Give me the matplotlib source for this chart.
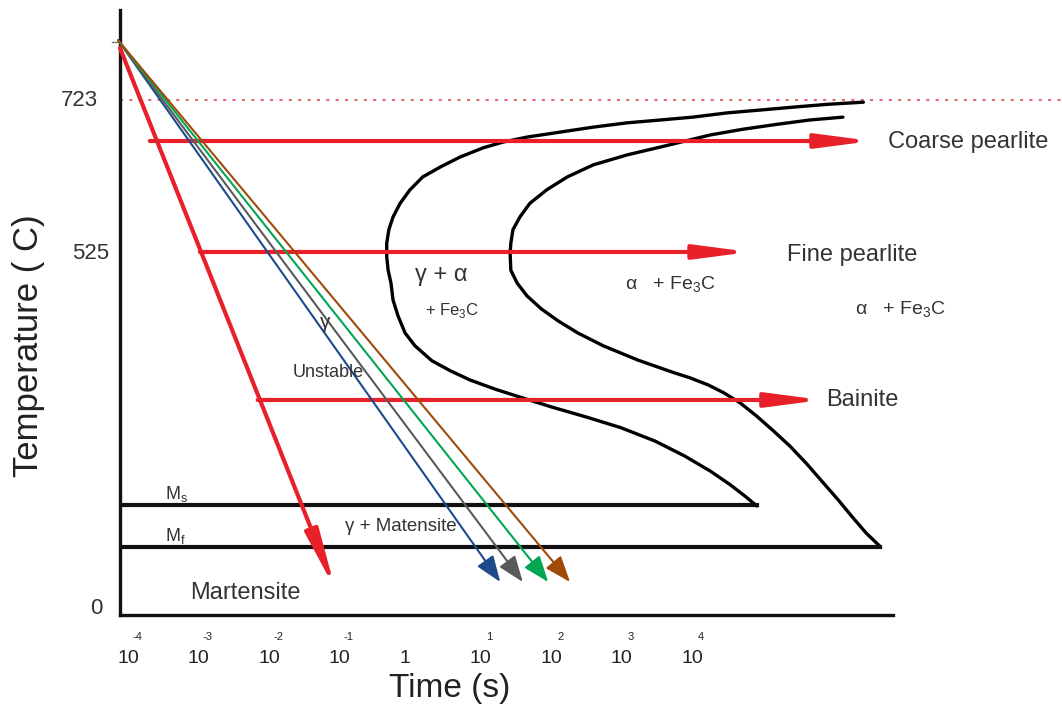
# TTT (time-temperature-transformation) diagram for eutectoid steel, redrawn with matplotlib
import matplotlib.pyplot as plt

plt.rcParams['font.family'] = ['Liberation Sans', 'DejaVu Sans']
plt.rcParams['mathtext.fontset'] = 'custom'
plt.rcParams['mathtext.rm'] = 'Liberation Sans'

# x is log10(time in s), y is a schematic temperature scale (723 = eutectoid line)
decades = [-4, -3, -2, -1, 0, 1, 2, 3, 4]
decade_labels = ['-4', '-3', '-2', '-1', '', '1', '2', '3', '4']

temp_tick_pos = [9.8, 508.2, 723]
temp_tick_labels = ['0', '525', '723']

# transformation start curve (left C-curve)
start_logt = [6.43, 5.92, 5.43, 4.97, 4.50, 4.01, 3.55, 3.08, 2.60, 2.13, 1.66, 1.32,
              1.04, 0.71, 0.43, 0.18, 0.00, -0.14, -0.24, -0.30, -0.33, -0.33, -0.31,
              -0.27, -0.24, -0.17, -0.07, 0.07, 0.31, 0.57, 0.85, 1.21, 1.59, 2.01,
              2.50, 2.99, 3.48, 3.90, 4.26, 4.54, 4.75, 4.92]
start_temp = [720, 717, 713, 709, 705, 699, 695, 691, 685, 678, 671, 664,
              656, 643, 629, 615, 597, 578, 559, 541, 522, 503, 484,
              466, 442, 420, 396, 378, 357, 343, 330, 317, 305, 292,
              278, 263, 244, 223, 202, 183, 167, 153]

# transformation finish curve (right C-curve)
finish_logt = [6.14, 5.67, 5.21, 4.72, 4.26, 4.01, 3.55, 3.08, 2.60, 2.23, 1.94, 1.70,
               1.56, 1.46, 1.43, 1.42, 1.43, 1.52, 1.66, 1.86, 2.10, 2.38, 2.74,
               3.23, 3.72, 3.97, 4.23, 4.45, 4.68, 4.92, 5.16, 5.39, 5.62, 5.84,
               6.07, 6.27, 6.47, 6.67]
finish_temp = [699, 695, 689, 682, 674, 668, 657, 646, 632, 615, 597, 578,
               559, 541, 522, 508, 484, 466, 448, 430, 413, 396, 378,
               358, 341, 333, 323, 312, 298, 279, 258, 237, 213, 188,
               162, 138, 115, 96]

# martensite start / finish
ms_temp, ms_end = 154.4, 4.92
mf_temp, mf_end = 95.5, 6.67

# isothermal holds
hold_start = [-3.69, -2.98, -2.16]
hold_end = [6.55, 4.82, 5.84]
hold_temp = [665.5, 509.7, 301.9]
hold_labels = ['Coarse pearlite', 'Fine pearlite', 'Bainite']

# continuous cooling lines from the austenitizing point
cool_origin = (-4.14, 807)
cool_end_logt = [1.28, 1.60, 1.96, 2.27]
cool_end_temp = 46.3
cool_colors = ['#1d4a8a', '#5a5a5a', '#00a651', '#a04a0a']

# quench line (red)
quench_from = (-4.113, 796)
quench_to = (-1.06, 36)

red = '#e8202a'

fig = plt.figure(figsize=(10.62, 7.06), dpi=100)
ax = fig.add_axes([0.1130, 0.1289, 0.7279, 0.8569])
ax.set_xlim(-4.113, 6.851)
ax.set_ylim(0, 849.4)

# axes: only left and bottom lines
ax.spines['top'].set_visible(False)
ax.spines['right'].set_visible(False)
for s in ['left', 'bottom']:
    ax.spines[s].set_linewidth(2.4)
    ax.spines[s].set_color('#111111')
ax.set_xticks([])
ax.set_yticks([])

# y labels (placed a little unevenly, like the original)
ytick_x = [-4.36, -4.26, -4.43]
for t, lab, x in zip(temp_tick_pos, temp_tick_labels, ytick_x):
    ax.text(x, t, lab, ha='right', va='center', fontsize=16, color='#333333', clip_on=False)

# small mark where the cooling starts
ax.plot([-4.23, -4.113], [804, 804], color='#777777', lw=1, clip_on=False)

# x tick labels: 10 with raised exponent
for d, e in zip(decades, decade_labels):
    if e == '':
        ax.text(d - 0.07, -0.0711, '1', transform=ax.get_xaxis_transform(),
                ha='center', va='center', fontsize=14, color='#222222')
    else:
        ax.text(d, -0.0711, '10', transform=ax.get_xaxis_transform(),
                ha='center', va='center', fontsize=14, color='#222222')
        ax.text(d + 0.13, -0.0364, e, transform=ax.get_xaxis_transform(),
                ha='center', va='center', fontsize=8, color='#222222')

ax.text(0.567, -0.1207, 'Time (s)', transform=ax.get_xaxis_transform(),
        ha='center', va='center', fontsize=24, color='#222222')
ax.text(-0.119, 0.445, 'Temperature ( C)', transform=ax.transAxes, rotation=90,
        ha='center', va='center', fontsize=25, color='#222222')

# eutectoid temperature (dotted)
ax.plot([-4.113, 9.25], [723, 723], color='#e46a78', lw=1.5,
        linestyle=(0, (1.5, 3)), clip_on=False)

# C-curves
ax.plot(start_logt, start_temp, color='black', lw=2.4, solid_capstyle='round',
        solid_joinstyle='round')
ax.plot(finish_logt, finish_temp, color='black', lw=2.4, solid_capstyle='round',
        solid_joinstyle='round', clip_on=False)

# Ms and Mf lines
ax.plot([-4.113, ms_end], [ms_temp, ms_temp], color='#111111', lw=3)
ax.plot([-4.113, mf_end], [mf_temp, mf_temp], color='#111111', lw=3)

# isothermal transformation arrows
for x0, x1, t in zip(hold_start, hold_end, hold_temp):
    ax.annotate('', xy=(x1, t), xytext=(x0, t), annotation_clip=False,
                arrowprops=dict(arrowstyle='-|>,head_length=3.2,head_width=0.42',
                                color=red, lw=3, shrinkA=0, shrinkB=0, mutation_scale=10))
ax.text(6.78, 664, hold_labels[0], ha='left', va='center', fontsize=17, color='#333333',
        clip_on=False)
ax.text(5.35, 505, hold_labels[1], ha='left', va='center', fontsize=17, color='#333333',
        clip_on=False)
ax.text(5.90, 302, hold_labels[2], ha='left', va='center', fontsize=17, color='#333333',
        clip_on=False)

# continuous cooling curves
for xe, c in zip(cool_end_logt, cool_colors):
    ax.annotate('', xy=(xe, cool_end_temp), xytext=cool_origin, annotation_clip=False,
                arrowprops=dict(arrowstyle='-|>,head_length=1.6,head_width=0.6',
                                color=c, lw=1.5, shrinkA=0, shrinkB=0, mutation_scale=10))

# quench to martensite
ax.annotate('', xy=quench_to, xytext=quench_from, annotation_clip=False,
            arrowprops=dict(arrowstyle='-|>,head_length=3.4,head_width=0.4',
                            color=red, lw=3, shrinkA=0, shrinkB=0, mutation_scale=10))

# phase labels
txt = dict(ha='left', va='center', color='#333333')
ax.text(0.07, 477, 'γ + α', fontsize=17, **txt)
ax.text(0.21, 428, r'+ Fe$_\mathrm{3}$C', fontsize=12, **txt)
ax.text(3.05, 463, r'α   + Fe$_\mathrm{3}$C', fontsize=14, **txt)
ax.text(6.31, 428, r'α   + Fe$_\mathrm{3}$C', fontsize=14, clip_on=False, **txt)
ax.text(-1.28, 411, 'γ', fontsize=15, **txt)
ax.text(-1.66, 340, 'Unstable', fontsize=13, **txt)
ax.text(-3.48, 170, r'M$_\mathrm{s}$', fontsize=13, **txt)
ax.text(-3.48, 111, r'M$_\mathrm{f}$', fontsize=13, **txt)
ax.text(-0.92, 124, 'γ + Matensite', fontsize=13.5, **txt)
ax.text(-3.12, 31, 'Martensite', fontsize=17, **txt)

plt.savefig('out.png', dpi=100)
